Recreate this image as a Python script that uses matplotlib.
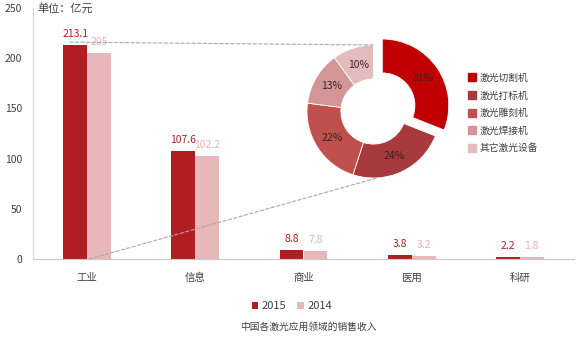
import matplotlib
matplotlib.use("Agg")
import matplotlib.pyplot as plt
from matplotlib.lines import Line2D
from matplotlib.patches import ConnectionPatch
import numpy as np

plt.rcParams['font.family'] = ['Noto Sans CJK SC', 'DejaVu Sans']

categories = ['工业', '信息', '商业', '医用', '科研']
values_2015 = [213.1, 107.6, 8.8, 3.8, 2.2]
values_2014 = [205, 102.2, 7.8, 3.2, 1.8]
labels_2015 = ['213.1', '107.6', '8.8', '3.8', '2.2']
labels_2014 = ['205', '102.2', '7.8', '3.2', '1.8']
series_names = ['2015', '2014']
yticks = [0, 50, 100, 150, 200, 250]

pie_labels = ['激光切割机', '激光打标机', '激光雕刻机', '激光焊接机', '其它激光设备']
pie_values = [31, 24, 22, 13, 10]

c2015 = '#B01E24'
c2014 = '#E8B7B9'
pie_colors = ['#C00000', '#A8393D', '#C0504D', '#D39596', '#E4BCBD']
text_col = '#404040'

W, H = 580, 338
fig = plt.figure(figsize=(W / 100, H / 100), dpi=100)

# bar axes
ax = fig.add_axes([33 / W, 1 - 259 / H, (574 - 33) / W, (259 - 8) / H])
x = np.arange(len(categories))
bw = 0.22
b1 = ax.bar(x - bw / 2, values_2015, bw, color=c2015, label=series_names[0], zorder=2)
b2 = ax.bar(x + bw / 2, values_2014, bw, color=c2014, label=series_names[1], zorder=2)
for xi, v, t in zip(x, values_2015, labels_2015):
    ax.annotate(t, (xi - bw / 2, v), xytext=(0, 4.5), textcoords='offset points',
                ha='center', va='bottom', fontsize=7.5, color=c2015)
for xi, v, t in zip(x, values_2014, labels_2014):
    ax.annotate(t, (xi + bw / 2, v), xytext=(0, 4.5), textcoords='offset points',
                ha='center', va='bottom', fontsize=7.5, color='#E6B3B5')
ax.set_xlim(-0.5, 4.5)
ax.set_ylim(0, 250)
ax.set_yticks(yticks)
ax.set_xticks(x)
ax.set_xticklabels(categories)
ax.tick_params(axis='x', length=0, pad=10, labelsize=7.5, labelcolor=text_col)
ax.tick_params(axis='y', length=0, pad=8, labelsize=7.5, labelcolor=text_col)
for s in ['top', 'right']:
    ax.spines[s].set_visible(False)
ax.spines['left'].set_color('#D9D9D9')
ax.spines['bottom'].set_color('#C8C8C8')
ax.spines['left'].set_linewidth(0.8)
ax.spines['bottom'].set_linewidth(0.8)

fig.text(37 / W, 1 - 8 / H, '单位：亿元', fontsize=8, color=text_col, va='center', ha='left')

# donut
cx, cy, r = 373.5, 111.5, 66.5
lim = 1.25
size = 2 * lim * r
pax = fig.add_axes([(cx - size / 2) / W, 1 - (cy + size / 2) / H, size / W, size / H])
wedges, _, autotexts = pax.pie(pie_values, colors=pie_colors, startangle=90, counterclock=False,
                               explode=[0.16, 0, 0, 0, 0],
                               wedgeprops=dict(width=0.51, edgecolor='white', linewidth=0.6),
                               autopct=lambda p: f'{p:.0f}%', pctdistance=0.74,
                               textprops=dict(fontsize=7.5, color='#3A2222'))
pax.set_xlim(-lim, lim)
pax.set_ylim(-lim, lim)
pax.set_aspect('equal')
pax.axis('off')

# connectors
for xy_bar, xy_pie in [((-bw / 2 - 0.05, 216), (0, 1.0)), ((0.02, 0), (0.05, -1.0))]:
    con = ConnectionPatch(xyA=xy_bar, coordsA=ax.transData, xyB=xy_pie, coordsB=pax.transData,
                          color='#A8A8A8', linewidth=0.8, linestyle=(0, (3, 2)), zorder=1)
    fig.add_artist(con)

# pie legend
handles = [Line2D([], [], marker='s', linestyle='none', markersize=5.5, color=c) for c in pie_colors]
fig.legend(handles, pie_labels, loc='upper left', bbox_to_anchor=(463 / W, 1 - 68 / H),
           frameon=False, fontsize=7, handlelength=0.8, handletextpad=0.4,
           labelspacing=0.78, borderpad=0, labelcolor=text_col)

# bar legend
fig.legend([b1, b2], series_names, loc='center', bbox_to_anchor=(292 / W, 1 - 306 / H), ncol=2,
           frameon=False, fontsize=8, handlelength=0.6, handleheight=0.6, handletextpad=0.3,
           columnspacing=1.0, labelcolor=text_col)

fig.text(308 / W, 1 - 327 / H, '中国各激光应用领域的销售收入', fontsize=7, color=text_col,
         ha='center', va='center')

fig.savefig('out.png', dpi=100)
